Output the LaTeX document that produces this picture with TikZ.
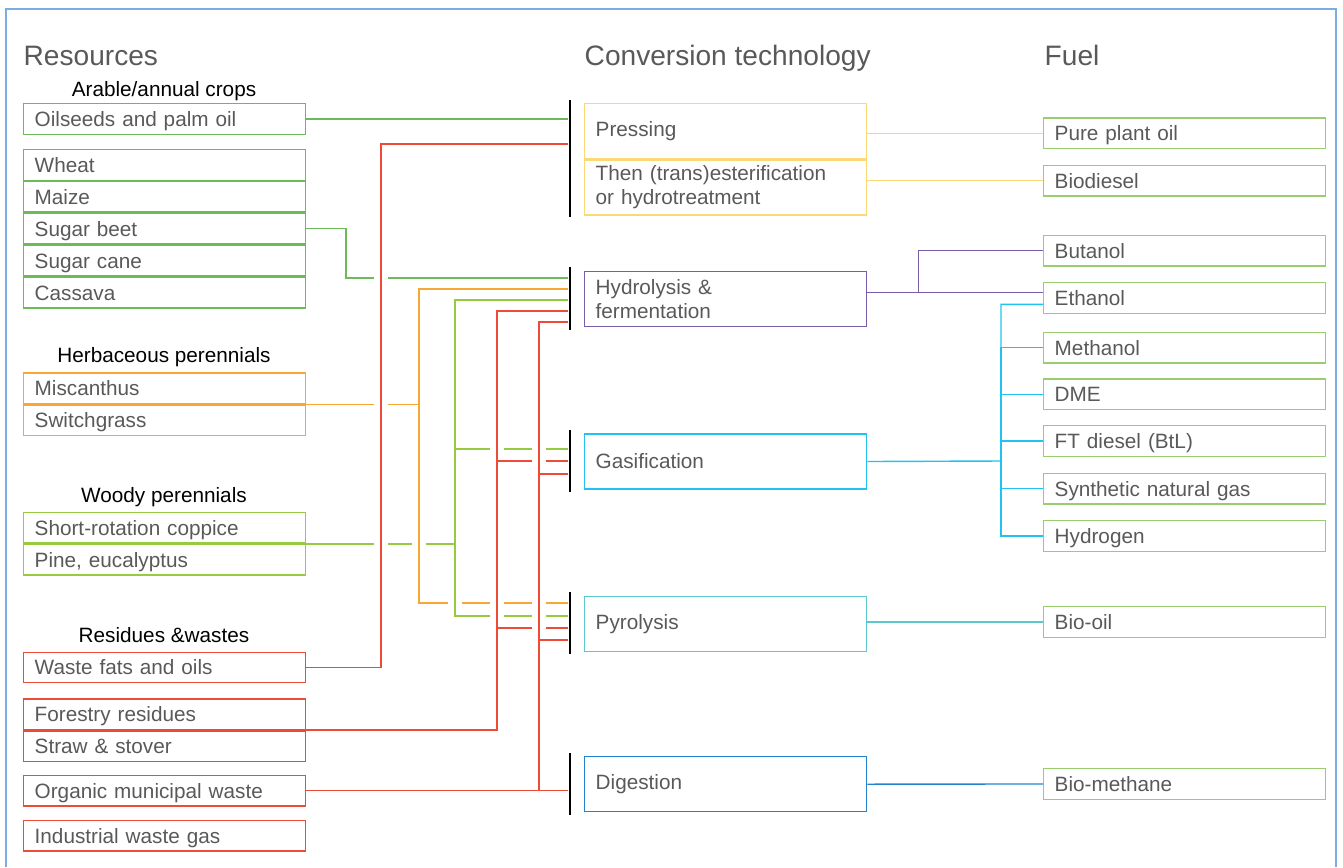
\documentclass[tikz,border=0pt]{standalone}
\usepackage{fontspec}
\setmainfont{Liberation Sans}
\usetikzlibrary{positioning}

\definecolor{arable}{RGB}{108,187,90}
\definecolor{herb}{RGB}{247,168,50}
\definecolor{woody}{RGB}{150,202,64}
\definecolor{waste}{RGB}{238,75,55}
\definecolor{press}{RGB}{253,216,118}
\definecolor{hydro}{RGB}{122,92,170}
\definecolor{gasif}{RGB}{32,195,240}
\definecolor{pyro}{RGB}{92,200,205}
\definecolor{digest}{RGB}{36,130,205}
\definecolor{fuelgreen}{RGB}{152,205,112}
\definecolor{frameblue}{RGB}{122,172,230}
\definecolor{txtgray}{RGB}{89,89,89}

\begin{document}
\begin{tikzpicture}[x=0.02cm, y=-0.02cm, line width=0.8pt,
    box/.style = {draw, text=txtgray, anchor=north west, inner xsep=0.22cm, inner ysep=0pt, text width=5.2cm, align=left, font=\fontsize{11.8}{14}\selectfont},
    src/.style = {box, minimum height=0.61cm, text height=8.5pt, text depth=0pt},
    tech/.style = {box, minimum height=1.1cm},
    fuel/.style = {box, draw=fuelgreen, minimum height=0.61cm, text height=8.5pt, text depth=0pt},
    bar/.style = {fill=black, inner sep=0pt, minimum width=1.2pt},
    group/.style = {anchor=base, inner sep=0pt, font=\fontsize{11.8}{14}\selectfont},
    head/.style = {anchor=base west, inner sep=0pt, text=txtgray, font=\fontsize{16}{18}\selectfont},
    gap/.style = {draw=white, line width=2.4pt}]
    \useasboundingbox (0,0) rectangle (1343,867);
    \draw[frameblue, line width=0.6pt] (6,867) -- (6,9) -- (1336,9) -- (1336,867);

    % column headers
    \node[head] (reshead) at (23,65) {Resources};
    \node[head] (techhead) at (584,65) {Conversion technology};
    \node[head] (fuelhead) at (1044,65) {Fuel};

    % resources
    \node[group] (arablehead) at (164,96) {Arable/annual crops};
    \node[src, draw=arable] (oil) at (23,103) {Oilseeds and palm oil};
    \node[src, draw=arable] (wheat) at (23,149) {Wheat};
    \node[src, draw=arable, below=0pt of wheat] (maize) {Maize};
    \node[src, draw=arable, below=0pt of maize] (beet) {Sugar beet};
    \node[src, draw=arable, below=0pt of beet] (cane) {Sugar cane};
    \node[src, draw=arable, below=0pt of cane] (cassava) {Cassava};

    \node[group] (herbhead) at (164,362.8) {Herbaceous perennials};
    \node[src, draw=herb] (misc) at (23,372.3) {Miscanthus};
    \node[src, draw=herb, below=0pt of misc] (switch) {Switchgrass};

    \node[group] (woodyhead) at (164,502.4) {Woody perennials};
    \node[src, draw=woody] (coppice) at (23,511.9) {Short-rotation coppice};
    \node[src, draw=woody, below=0pt of coppice] (pine) {Pine, eucalyptus};

    \node[group] (wastehead) at (164,642.7) {Residues \&wastes};
    \node[src, draw=waste] (fats) at (23,651.5) {Waste fats and oils};
    \node[src, draw=waste] (forest) at (23,698.2) {Forestry residues};
    \node[src, draw=waste, below=0pt of forest] (straw) {Straw \& stover};
    \node[src, draw=waste] (organic) at (23,774.6) {Organic municipal waste};
    \node[src, draw=waste] (industrial) at (23,819.9) {Industrial waste gas};

    % conversion technologies
    \node[tech, draw=press] (press) at (584,102.7) {Pressing};
    \node[tech, draw=press, below=0pt of press] (trans) {Then (trans)esterification\\or hydrotreatment};
    \node[tech, draw=hydro] (hydro) at (584,271) {Hydrolysis \&\\fermentation};
    \node[tech, draw=gasif] (gasif) at (584,433.3) {Gasification};
    \node[tech, draw=pyro] (pyro) at (584,595.7) {Pyrolysis};
    \node[tech, draw=digest] (digest) at (584,756) {Digestion};

    \node[bar, minimum height=2.34cm] (pbar) at (570,158.5) {};
    \node[bar, minimum height=1.26cm] (hbar) at (570,298.5) {};
    \node[bar, minimum height=1.24cm] (gbar) at (570,461) {};
    \node[bar, minimum height=1.25cm] (ybar) at (570,623) {};
    \node[bar, minimum height=1.25cm] (dbar) at (570,783.8) {};

    % fuels
    \node[fuel] (pure) at (1043,117.3) {Pure plant oil};
    \node[fuel] (biodiesel) at (1043,164.7) {Biodiesel};
    \node[fuel] (butanol) at (1043,234.7) {Butanol};
    \node[fuel] (ethanol) at (1043,282) {Ethanol};
    \node[fuel] (methanol) at (1043,331.7) {Methanol};
    \node[fuel] (dme) at (1043,378.3) {DME};
    \node[fuel] (ftd) at (1043,425) {FT diesel (BtL)};
    \node[fuel] (sng) at (1043,472.7) {Synthetic natural gas};
    \node[fuel] (hydrogen) at (1043,520) {Hydrogen};
    \node[fuel] (biooil) at (1043,606) {Bio-oil};
    \node[fuel] (biomethane) at (1043,768) {Bio-methane};

    % resources -> technologies
    \draw[arable] (oil.east) -- (pbar.west |- oil.east);
    \draw[arable] (beet.east) -| (346,278) -- (hbar.west |- 0,278);
    \draw[waste] (fats.east) -| (381,144) -- (pbar.west |- 0,144);
    \draw[herb] (misc.south east) -| (419,289) -- (hbar.west |- 0,289);
    \draw[herb] (419,289) |- (ybar.west |- 0,603);
    \draw[woody] (coppice.south east) -| (455,300) -- (hbar.west |- 0,300);
    \draw[woody] (455,300) |- (ybar.west |- 0,616);
    \draw[woody] (455,449) -- (gbar.west |- 0,449);
    \draw[waste] (forest.south east) -| (497,311) -- (hbar.west |- 0,311);
    \draw[waste] (497,461) -- (gbar.west |- 0,461);
    \draw[waste] (497,628) -- (ybar.west |- 0,628);
    \draw[waste] (organic.east) -- (dbar.west |- organic.east);
    \draw[waste] (organic.east -| 539,0) |- (hbar.west |- 0,322);
    \draw[waste] (539,474) -- (gbar.west |- 0,474);
    \draw[waste] (539,640) -- (ybar.west |- 0,640);

    % breaks where lines cross
    \foreach \x/\y in {381/278, 381/403.2, 381/542.8, 419/542.8, 455/603, 497/449, 497/603, 497/616, 539/449, 539/461, 539/603, 539/616, 539/628}
        \draw[gap] (\x-7,\y) -- (\x+7,\y);
    \foreach \x/\a/\b/\c in {381/144/667/waste, 419/289/603/herb, 455/300/616/woody, 497/311/728.4/waste, 539/322/790.1/waste}
        \draw[draw=\c] (\x,\a) -- (\x,\b);

    % technologies -> fuels
    \draw[press] (press.east |- pure.west) -- (pure.west);
    \draw[press] (trans.east |- biodiesel.west) -- (biodiesel.west);
    \draw[hydro] (hydro.east |- 0,292.7) -- (ethanol.west |- 0,292.7);
    \draw[hydro] (918.5,292.7) |- (butanol.west);
    \coordinate (gj) at (1001,461);
    \draw[gasif] (gasif.east) -- (gj) |- (ethanol.west |- 0,304.3);
    \foreach \f in {methanol, dme, ftd, sng, hydrogen}
        \draw[gasif] (gj) |- (\f.west);
    \draw[pyro] (pyro.east |- biooil.west) -- (biooil.west);
    \draw[digest] (digest.east) -- (biomethane.west);
\end{tikzpicture}
\end{document}
